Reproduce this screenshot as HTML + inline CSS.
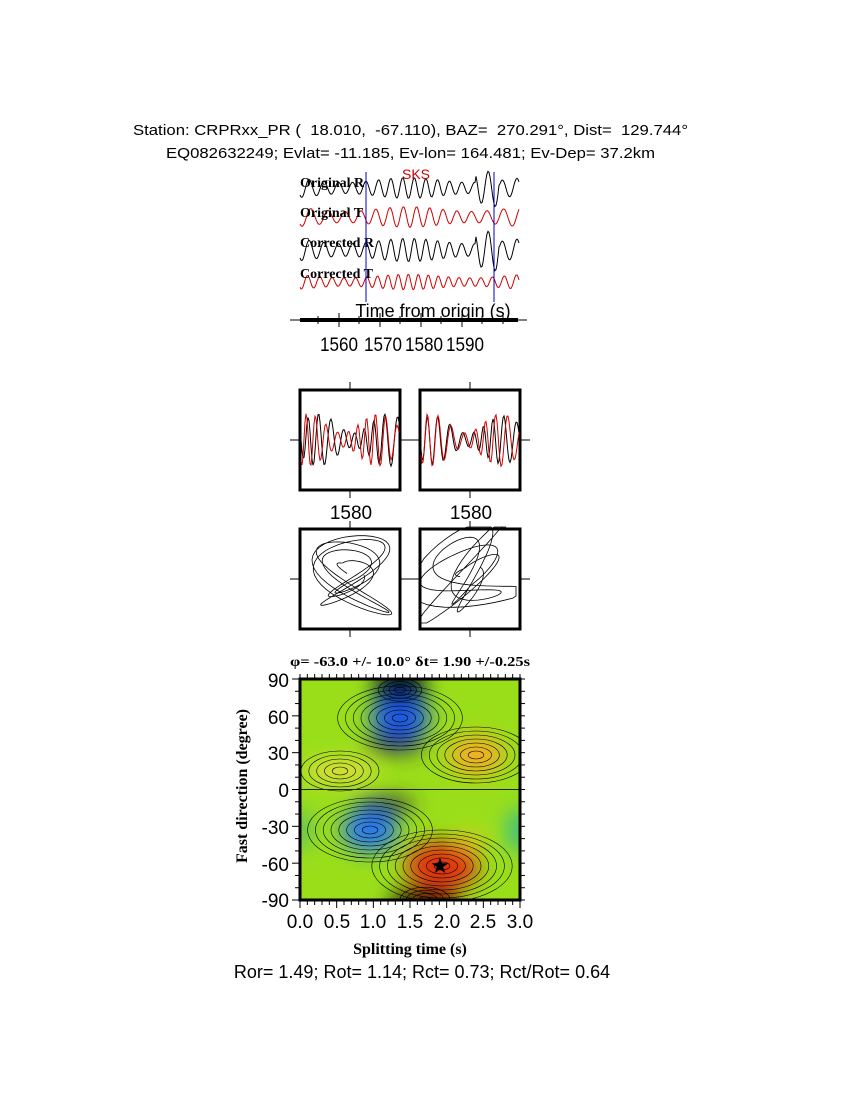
<!DOCTYPE html>
<html><head><meta charset="utf-8"><style>
body{margin:0;background:#fff;width:850px;height:1100px;overflow:hidden}
svg{position:absolute;left:0;top:0}
text{font-family:"Liberation Sans",sans-serif;white-space:pre}
.s{font-family:"Liberation Serif",serif;font-weight:bold}
</style></head><body>
<svg id="g" width="850" height="1100" viewBox="0 0 850 1100">
<defs>
<clipPath id="cp"><rect x="300" y="679" width="220" height="221"/></clipPath>
<filter id="bl"><feGaussianBlur stdDeviation="10"/></filter>
</defs>
<text x="133" y="135" font-size="15" textLength="555" lengthAdjust="spacingAndGlyphs" xml:space="preserve">Station: CRPRxx_PR (  18.010,  -67.110), BAZ=  270.291°, Dist=  129.744°</text>
<text x="166" y="158" font-size="15" textLength="489" lengthAdjust="spacingAndGlyphs">EQ082632249; Evlat= -11.185, Ev-lon= 164.481; Ev-Dep= 37.2km</text>
<g id="traces"></g>
<text x="402" y="179" font-size="14" fill="#d00000">SKS</text>
<text x="300" y="187" font-size="14" class="s">Original R</text>
<text x="300" y="217" font-size="14" class="s">Original T</text>
<text x="300" y="247" font-size="14" class="s">Corrected R</text>
<text x="300" y="278" font-size="14" class="s">Corrected T</text>
<line x1="366" y1="172" x2="366" y2="302" stroke="#0000c0" stroke-width="1"/>
<line x1="494" y1="172" x2="494" y2="302" stroke="#0000c0" stroke-width="1"/>
<text x="433" y="317" font-size="18" text-anchor="middle">Time from origin (s)</text>
<line x1="290" y1="320" x2="527" y2="320" stroke="#000" stroke-width="1"/>
<line x1="300" y1="320" x2="518" y2="320" stroke="#000" stroke-width="4"/>
<g id="tk"></g>
<g font-size="19">
<text x="320" y="351" textLength="38" lengthAdjust="spacingAndGlyphs">1560</text>
<text x="364" y="351" textLength="38" lengthAdjust="spacingAndGlyphs">1570</text>
<text x="405" y="351" textLength="38" lengthAdjust="spacingAndGlyphs">1580</text>
<text x="446" y="351" textLength="38" lengthAdjust="spacingAndGlyphs">1590</text>
</g>
<g id="boxes"></g>
<text x="351" y="519" font-size="19" text-anchor="middle">1580</text>
<text x="471" y="519" font-size="19" text-anchor="middle">1580</text>
<text x="410" y="666" font-size="14" text-anchor="middle" class="s" textLength="240" lengthAdjust="spacingAndGlyphs">φ= -63.0 +/- 10.0° δt= 1.90 +/-0.25s</text>
<g clip-path="url(#cp)">
<rect x="300" y="679" width="220" height="221" fill="#9ade1a"/>
<g filter="url(#bl)">
<ellipse cx="400" cy="688" rx="26" ry="20" fill="#000"/>
<ellipse cx="425" cy="902" rx="36" ry="12" fill="#000"/>
<ellipse cx="395" cy="745" rx="30" ry="8" fill="#333"/>
<ellipse cx="385" cy="805" rx="30" ry="8" fill="#333"/>
<ellipse cx="400" cy="718" rx="30" ry="22" fill="#1a5ae0"/>
<ellipse cx="370" cy="830" rx="28" ry="22" fill="#2a7ae8"/>
<ellipse cx="476" cy="755" rx="28" ry="20" fill="#f0b020"/>
<ellipse cx="340" cy="771" rx="36" ry="10" fill="#e8e040"/>
<ellipse cx="442" cy="866" rx="36" ry="24" fill="#e03010"/>
<ellipse cx="470" cy="842" rx="14" ry="8" fill="#f0c020"/>
<ellipse cx="520" cy="830" rx="14" ry="22" fill="#40c080"/>
<ellipse cx="300" cy="830" rx="12" ry="20" fill="#60c060"/>
</g>
<g id="ct" fill="none" stroke="#000" stroke-width="0.6"></g>
<line x1="300" y1="789.5" x2="520" y2="789.5" stroke="#222" stroke-width="1"/>
<text x="440" y="873" font-size="22" text-anchor="middle">★</text>
</g>
<rect x="300" y="679" width="220" height="221" fill="none" stroke="#000" stroke-width="3"/>
<g id="ctk"></g>
<g font-size="19" text-anchor="end">
<text x="289" y="687">90</text><text x="289" y="724">60</text><text x="289" y="760">30</text>
<text x="289" y="797">0</text><text x="289" y="834">-30</text><text x="289" y="871">-60</text><text x="289" y="907">-90</text>
</g>
<g font-size="19" text-anchor="middle">
<text x="300" y="928">0.0</text><text x="337" y="928">0.5</text><text x="373" y="928">1.0</text>
<text x="410" y="928">1.5</text><text x="447" y="928">2.0</text><text x="483" y="928">2.5</text><text x="520" y="928">3.0</text>
</g>
<text x="410" y="954" font-size="16" text-anchor="middle" class="s">Splitting time (s)</text>
<text x="247" y="786" font-size="16" text-anchor="middle" class="s" transform="rotate(-90 247 786)">Fast direction (degree)</text>
<text x="422" y="978" font-size="18" text-anchor="middle">Ror= 1.49; Rot= 1.14; Rct= 0.73; Rct/Rot= 0.64</text>
</svg>
<script>
var NS="http://www.w3.org/2000/svg";
function el(p,t,a){var e=document.createElementNS(NS,t);for(var k in a)e.setAttribute(k,a[k]);document.getElementById(p).appendChild(e);return e;}
function wave(x0,x1,yc,amp,per,big){var d="";for(var x=x0;x<=x1;x+=1){var a=amp*(1+0.3*Math.sin(x*0.05));if(big&&x>475&&x<500)a*=2.6;var y=yc+a*Math.sin((x-x0)*2*Math.PI/per+Math.sin(x*0.03)*2);d+=(x==x0?"M":"L")+x+" "+y.toFixed(1);}return d;}
el("traces","path",{d:wave(300,519,188,8,13,1),stroke:"#000",fill:"none","stroke-width":1});
el("traces","path",{d:wave(300,519,217,8,15,0),stroke:"#d00000",fill:"none","stroke-width":1});
el("traces","path",{d:wave(300,519,250,9,13,1),stroke:"#000",fill:"none","stroke-width":1});
el("traces","path",{d:wave(300,519,282,6,11,0),stroke:"#d00000",fill:"none","stroke-width":1});
[339,380,421,462].forEach(function(x){el("tk","line",{x1:x,y1:313,x2:x,y2:327,stroke:"#000"});});
[318,359,400,441,482,503].forEach(function(x){el("tk","line",{x1:x,y1:316,x2:x,y2:324,stroke:"#000"});});
function box(x,y){el("boxes","rect",{x:x,y:y,width:100,height:100,fill:"none",stroke:"#000","stroke-width":3});
el("boxes","line",{x1:x-10,y1:y+50,x2:x,y2:y+50,stroke:"#000"});el("boxes","line",{x1:x+100,y1:y+50,x2:x+110,y2:y+50,stroke:"#000"});
el("boxes","line",{x1:x+50,y1:y-8,x2:x+50,y2:y,stroke:"#000"});el("boxes","line",{x1:x+50,y1:y+100,x2:x+50,y2:y+108,stroke:"#000"});}
box(300,390);box(420,390);box(300,529);box(420,529);
function sw(x0,yc,amp,per,col,ph){var d="";for(var i=0;i<=98;i++){var x=x0+1+i;var y=yc+amp*(0.7+0.4*Math.sin(i*0.09+ph))*Math.sin(i*2*Math.PI/per+ph+Math.sin(i*0.1));d+=(i?"L":"M")+x+" "+y.toFixed(1);}el("boxes","path",{d:d,fill:"none",stroke:col,"stroke-width":1});}
sw(300,440,24,11,"#000",0);sw(300,440,24,10,"#d00000",1);sw(420,440,22,11,"#000",0.5);sw(420,440,24,11.5,"#d00000",0.7);
function pm(cx,cy,s,sk,n){var d="";for(var i=0;i<n;i++){var t=i*0.11;var r=s*(0.3+0.7*Math.abs(Math.sin(t*0.23)));var x=cx+r*Math.cos(t*1.7)+sk*r*Math.sin(t)*0.6;var y=cy+r*Math.sin(t*1.1)-sk*r*Math.cos(t*1.7)*0.6;x=Math.max(cx-48,Math.min(cx+48,x));y=Math.max(cy-48,Math.min(cy+48,y));d+=(i?"L":"M")+x.toFixed(1)+" "+y.toFixed(1);}el("boxes","path",{d:d,fill:"none",stroke:"#000","stroke-width":0.8});}
pm(352,575,40,0,260);pm(468,575,42,1,260);
var c=[[400,718,1,9],[370,830,1,9],[476,755,1,8],[340,771,1,6],[442,866,1,10],[400,690,0.7,5],[425,900,0.8,5]];
c.forEach(function(p){for(var k=1;k<p[3];k++){el("ct","ellipse",{cx:p[0],cy:p[1],rx:k*6*p[2]*1.3,ry:k*4*p[2]});}});
for(var i=0;i<=30;i++){var x=300+i*220/30;el("ctk","line",{x1:x,y1:900,x2:x,y2:i%5?905:908,stroke:"#000"});el("ctk","line",{x1:x,y1:679,x2:x,y2:674,stroke:"#000"});}
for(var j=0;j<=18;j++){var y=679+j*221/18;el("ctk","line",{x1:300,y1:y,x2:j%3?295:292,y2:y,stroke:"#000"});el("ctk","line",{x1:520,y1:y,x2:525,y2:y,stroke:"#000"});}
</script>
</body></html>
